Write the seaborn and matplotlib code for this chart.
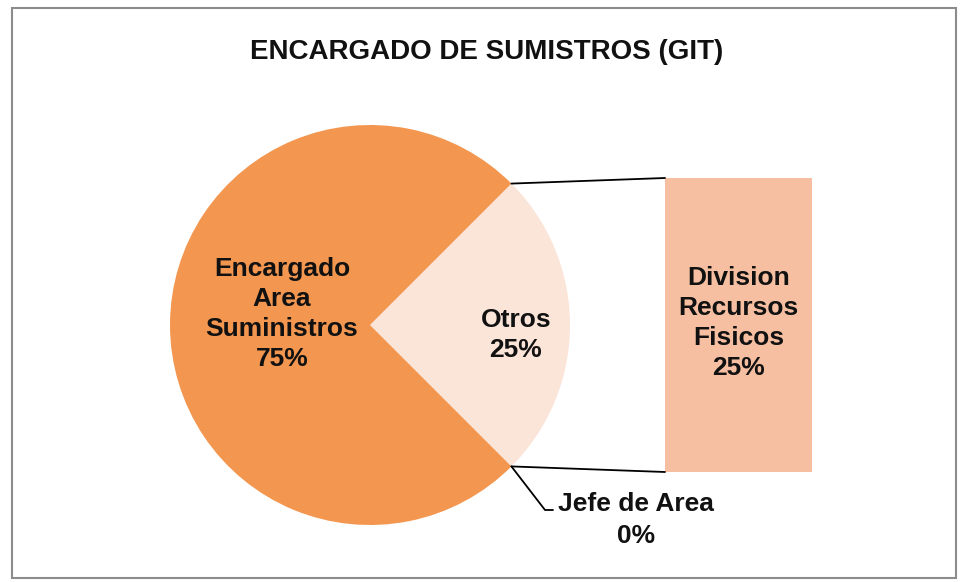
import numpy as np
import matplotlib
matplotlib.use("Agg")
import matplotlib.pyplot as plt
import seaborn as sns

# data
pie_labels = ["Otros", "Encargado\nArea\nSuministros", "Jefe de Area"]
pie_values = [25, 75, 0]
bar_labels = ["Division\nRecursos\nFisicos"]
bar_values = [25]
title = "ENCARGADO DE SUMISTROS (GIT)"

sns.set_theme(style="white")
plt.rcParams['font.family'] = ['Liberation Sans', 'DejaVu Sans']

pie_colors = ["#FBE4D8", "#F29650", "#F29650"]
bar_color = "#F6BFA1"
txt = dict(fontsize=19, fontweight="bold", color="#111111", linespacing=1.32,
           ha="center", va="center")

fig = plt.figure(figsize=(9.63, 5.82), dpi=100)
ax = fig.add_axes([0, 0, 1, 1])

# outer frame
fig.patches.append(plt.Rectangle((12 / 963, 4 / 582), 944 / 963, 570 / 582,
                                 transform=fig.transFigure, fill=False,
                                 edgecolor="#8c8c8c", linewidth=1.5))

cx, cy, r = 370, 257, 200
wedges, _ = ax.pie(pie_values, colors=pie_colors, startangle=-45,
                   center=(cx, cy), radius=r, frame=True,
                   wedgeprops=dict(linewidth=0))
ax.set_xlim(0, 963)
ax.set_ylim(0, 582)
ax.set_aspect('equal')
ax.axis('off')

# bar of the "Otros" part
bx, bw, by = 738.5, 147, 110
scale = 294 / sum(bar_values)
bottom = by
for lab, v in zip(bar_labels, bar_values):
    ax.bar(bx, v * scale, bottom=bottom, width=bw, color=bar_color, linewidth=0)
    ax.text(bx, bottom + v * scale / 2 + 2, f"{lab}\n{v}%", **txt)
    bottom += v * scale

# connector lines
a1, a2 = np.deg2rad(45), np.deg2rad(-45)
ax.plot([cx + r * np.cos(a1), bx - bw / 2], [cy + r * np.sin(a1), by + 294], color="black", lw=1.3)
ax.plot([cx + r * np.cos(a2), bx - bw / 2], [cy + r * np.sin(a2), by], color="black", lw=1.3)

# pie labels
ax.text(cx + 0.73 * r, cy - 10, f"{pie_labels[0]}\n{pie_values[0]}%", **txt)
ax.text(cx - 0.44 * r, cy + 11, f"{pie_labels[1]}\n{pie_values[1]}%", **txt)

# zero slice label with leader
px, py = cx + r * np.cos(a2), cy + r * np.sin(a2)
ax.plot([px, 545, 553], [py, 72, 72], color="black", lw=1.3)
ax.text(636, 62, f"{pie_labels[2]}\n{pie_values[2]}%", **dict(txt, linespacing=1.45))

ax.text(487, 530, title, ha="center", va="center", fontsize=20,
        fontweight="bold", color="#111111")

fig.savefig("out.png", dpi=100, facecolor="white")
